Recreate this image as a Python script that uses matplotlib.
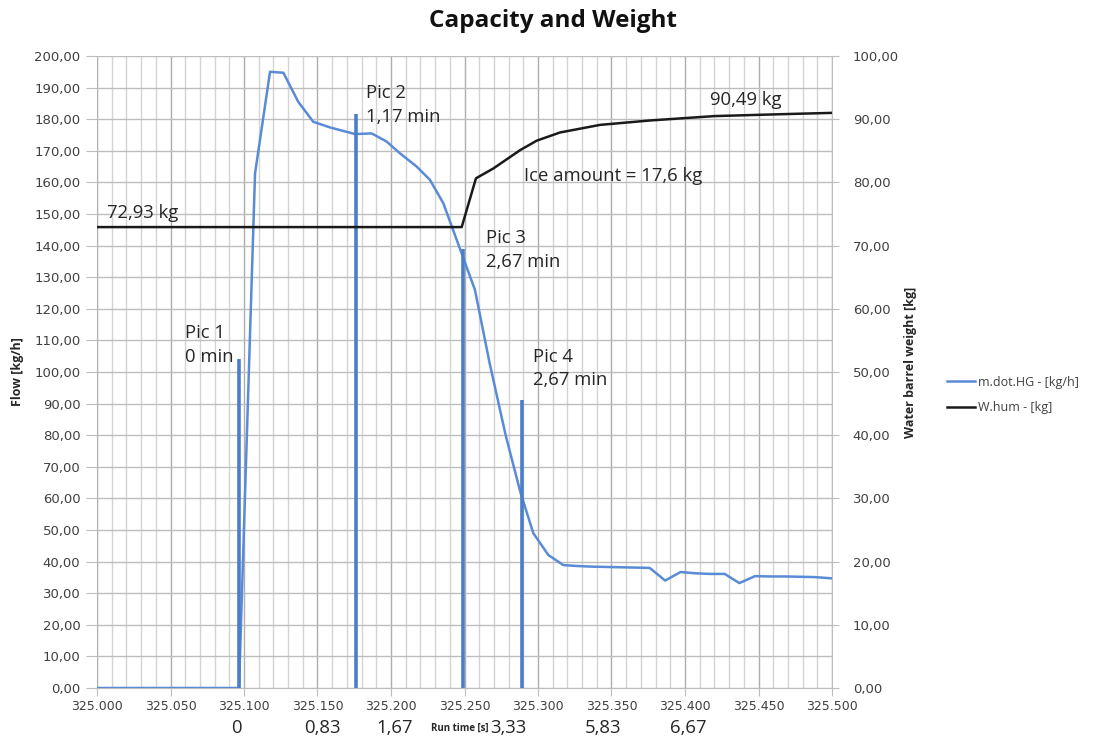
import matplotlib
matplotlib.use("Agg")
import matplotlib.pyplot as plt
from matplotlib.ticker import MultipleLocator, FuncFormatter

# Mass flow of hot gas [kg/h] against run time
flow_time = [325.000, 325.0966, 325.1075, 325.1177, 325.1268, 325.1369, 325.1471,
             325.1585, 325.1755, 325.1869, 325.1971, 325.2061, 325.2175, 325.2265,
             325.2356, 325.2571, 325.2670, 325.2780, 325.2880, 325.2968, 325.3070,
             325.3172, 325.3270, 325.3370, 325.3470, 325.3570, 325.3670, 325.3760,
             325.3865, 325.3970, 325.4070, 325.4170, 325.4270, 325.4370, 325.4476,
             325.4580, 325.4680, 325.4780, 325.4880, 325.5000]
flow = [0.0, 0.0, 162.8, 195.0, 194.7, 185.5, 179.2,
        177.4, 175.3, 175.5, 172.9, 169.2, 165.0, 160.8,
        153.4, 126.0, 103.0, 80.0, 62.0, 49.0, 42.1,
        38.9, 38.6, 38.4, 38.3, 38.2, 38.1, 38.0,
        34.0, 36.7, 36.3, 36.1, 36.1, 33.2, 35.4,
        35.3, 35.3, 35.2, 35.1, 34.7]

# Water barrel weight [kg]
weight_time = [325.000, 325.2481, 325.2578, 325.2696, 325.2878, 325.2991, 325.3150,
               325.3422, 325.3762, 325.4200, 325.4667, 325.5000]
weight = [72.93, 72.93, 80.65, 82.2, 85.1, 86.6, 87.9,
          89.1, 89.8, 90.49, 90.8, 91.0]

# Picture markers
pic_time = [325.0966, 325.1762, 325.2490, 325.2891]
pic_height = [104.0, 181.8, 138.9, 91.1]
pic_labels = ["Pic 1\n0 min", "Pic 2\n1,17 min", "Pic 3\n2,67 min", "Pic 4\n2,67 min"]

# Elapsed-minute labels under the time axis
minute_labels = ["0", "0,83", "1,67", "3,33", "5,83", "6,67"]

BLUE = "#5a8bd6"
PIC_BLUE = "#4a7ecb"
TXT = "#262626"
TICK = "#404040"

fig = plt.figure(figsize=(11.06, 7.42), dpi=100)
ax = fig.add_axes([97 / 1106, 54 / 742, 735 / 1106, 632 / 742])
ax2 = ax.twinx()

ax.set_xlim(325.0, 325.5)
ax.set_ylim(0, 200)
ax2.set_ylim(0, 100)

ax.xaxis.set_major_locator(MultipleLocator(0.05))
ax.xaxis.set_minor_locator(MultipleLocator(0.01))
ax.yaxis.set_major_locator(MultipleLocator(10))
ax2.yaxis.set_major_locator(MultipleLocator(10))

comma = FuncFormatter(lambda v, p: f"{v:.2f}".replace(".", ","))
ax.yaxis.set_major_formatter(comma)
ax2.yaxis.set_major_formatter(comma)
ax.xaxis.set_major_formatter(FuncFormatter(lambda v, p: f"{v:.3f}"))

ax.grid(which="major", axis="x", color="#adadad", lw=1.0)
ax.grid(which="minor", axis="x", color="#d4d4d4", lw=1.0)
ax.grid(which="major", axis="y", color="#bdbdbd", lw=1.0)
ax.set_axisbelow(True)

for a in (ax, ax2):
    for s in a.spines.values():
        s.set_visible(False)
ax.spines["bottom"].set_visible(True)
ax.spines["bottom"].set_color("#bdbdbd")
ax.spines["right"].set_visible(True)
ax.spines["right"].set_color("#bdbdbd")

ax.tick_params(axis="x", which="major", length=6, color="#bdbdbd", labelsize=9,
               labelcolor=TICK, pad=3)
ax.tick_params(axis="x", which="minor", length=0)
ax.tick_params(axis="y", length=8, color="#bdbdbd", labelsize=9.5, labelcolor=TICK, pad=4)
ax2.tick_params(axis="y", length=5, color="#bdbdbd", labelsize=9.5, labelcolor=TICK, pad=10)

# Series
ax.plot(flow_time, flow, color=BLUE, lw=1.8, zorder=4, label="m.dot.HG - [kg/h]")
ax2.plot(weight_time, weight, color="#1a1a1a", lw=1.8, zorder=4, label="W.hum - [kg]")
for t, h in zip(pic_time, pic_height):
    ax.plot([t, t], [0, h], color=PIC_BLUE, lw=2.6, solid_capstyle="butt", zorder=5)

# Annotations
txt_kw = dict(family="Open Sans", fontsize=13.3, color=TXT, linespacing=1.4, zorder=6)
pic_text_pos = [(325.0599, 108.5), (325.1830, 184.5), (325.2646, 138.6), (325.2966, 101.1)]
for (x, y), lab in zip(pic_text_pos, pic_labels):
    ax.text(x, y, lab, ha="left", va="center", **txt_kw)
ax.text(325.0068, 150.3, "72,93 kg", ha="left", va="center", **txt_kw)
ax.text(325.4170, 186.1, "90,49 kg", ha="left", va="center", **txt_kw)
ax.text(325.2905, 162.0, "Ice amount = 17,6 kg", ha="left", va="center", **txt_kw)

# Minute labels under the axis
minute_pos = [325.0946, 325.1531, 325.2027, 325.2796, 325.3442, 325.4020]
for x, lab in zip(minute_pos, minute_labels):
    ax.text(x, -0.063, lab, transform=ax.get_xaxis_transform(), ha="center", va="center",
            family="Open Sans", fontsize=13.3, color=TXT)
ax.text(325.2469, -0.064, "Run time [s]", transform=ax.get_xaxis_transform(),
        ha="center", va="center", family="Open Sans", fontsize=7, fontweight="bold",
        color=TXT)

# Axis titles
fig.text(18 / 1106, 1 - 372 / 742, "Flow [kg/h]", rotation=90, ha="center", va="center",
         family="Open Sans", fontsize=9, fontweight="bold", color=TXT)
fig.text(910 / 1106, 1 - 362 / 742, "Water barrel weight [kg]", rotation=90, ha="center",
         va="center", family="Open Sans", fontsize=9, fontweight="bold", color=TXT)

fig.text(553 / 1106, 1 - 21 / 742, "Capacity and Weight", ha="center", va="center",
         family="Open Sans", fontsize=17.5, fontweight="bold", color="#111111")

# Legend
h1, l1 = ax.get_legend_handles_labels()
h2, l2 = ax2.get_legend_handles_labels()
fig.legend(h1 + h2, l1 + l2, loc="center left", bbox_to_anchor=(936 / 1106, 1 - 395 / 742),
           frameon=False, handlelength=2.2, handletextpad=0.3, labelspacing=1.0,
           prop={"family": "Open Sans", "size": 9}, labelcolor=TICK)

fig.savefig("out.png", dpi=100, facecolor="white")
